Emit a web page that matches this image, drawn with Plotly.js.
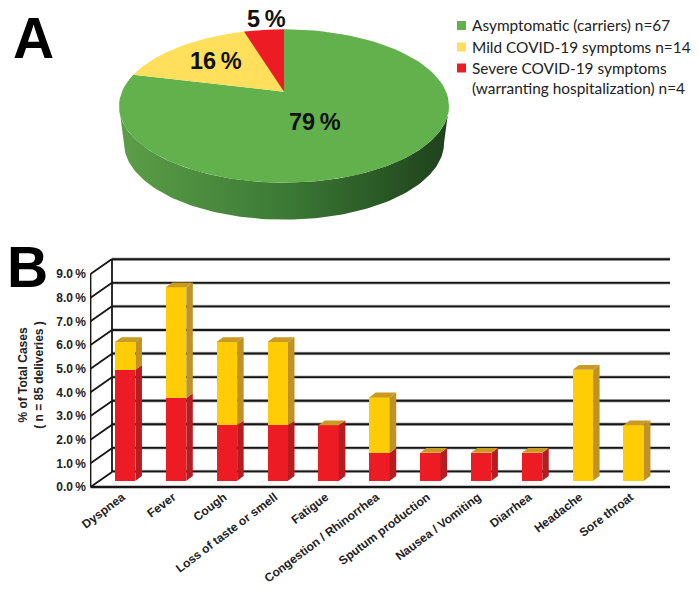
<!DOCTYPE html>
<html><head><meta charset="utf-8">
<script src="https://cdn.plot.ly/plotly-3.0.1.min.js"></script>
<style>html,body{margin:0;padding:0;background:#fff}</style></head>
<body><div id="chart" style="width:699px;height:593px"></div>
<script>
// ---------- data ----------
const pieLabels = ['Asymptomatic (carriers) n=67','Mild COVID-19 symptoms n=14','Severe COVID-19 symptoms<br>(warranting hospitalization) n=4'];
const pieCounts = [67,14,4];
const pieTexts = ['79\u2009%','16\u2009%','5\u2009%'];
const pieColors = ['#62B14C','#FFDF5C','#ED1C24'];
const categories = ['Dyspnea','Fever','Cough','Loss of taste or smell','Fatigue','Congestion / Rhinorrhea','Sputum production','Nausea / Vomiting','Diarrhea','Headache','Sore throat'];
const severeValues = [4.7,3.5,2.35,2.35,2.35,1.18,1.18,1.18,1.18,0,0];
const mildValues   = [1.18,4.7,3.53,3.53,0,2.35,0,0,0,4.7,2.35];
const yLevels = [0,1,2,3,4,5,6,7,8,9];
const yTickText = ['0.0\u2009%','1.0\u2009%','2.0\u2009%','3.0\u2009%','4.0\u2009%','5.0\u2009%','6.0\u2009%','7.0\u2009%','8.0\u2009%','9.0\u2009%'];

// ---------- layout constants (pixels of the 699x593 page) ----------
const W=699,H=593;
const PLOT={l:90,r:671,t:255,b:495};
const fx=p=>p/W, fy=p=>1-p/H;
const PITCH=50.85, X0=125.2;                 // px per category, px of first category
const xRange=[(PLOT.l-X0)/PITCH,(PLOT.r-X0)/PITCH];
const yRangeFor=(zero,scale)=>[(zero-PLOT.b)/scale,(zero-PLOT.t)/scale];
const BAR_ZERO=480.7,BAR_SCALE=23.6;
const WALL_ZERO=471.4,WALL_SCALE=23.57;
const FRONT_ZERO=487,FRONT_SCALE=23.67;
const BAR_W=0.403, DX=6.5/PITCH, DY=4.8/BAR_SCALE;
const WALL_L=(112-X0)/PITCH, WALL_R=(670-X0)/PITCH, FRONT_L=(90.5-X0)/PITCH;

// ---------- 3D faces of the bars, derived from the values ----------
function faces(lowFn,highFn,kind){
  const xs=[],ys=[];
  categories.forEach((c,i)=>{
    const lo=lowFn(i),hi=highFn(i);
    if(hi<=lo) return;
    const R=i+BAR_W/2,L=i-BAR_W/2;
    if(kind==='side'){xs.push(R,R+DX,R+DX,R,R,null);ys.push(lo,lo+DY,hi+DY,hi,lo,null);}
    else{xs.push(L,R,R+DX,L+DX,L,null);ys.push(hi,hi,hi+DY,hi+DY,hi,null);}
  });
  return {xs,ys};
}
const total=i=>severeValues[i]+mildValues[i];
const sideRed=faces(()=>0,i=>severeValues[i],'side');
const sideYel=faces(i=>severeValues[i],total,'side');
const tops=faces(()=>-1,total,'top');

// ---------- wall and frame lines ----------
const wallX=[],wallY=[];
yLevels.forEach(v=>{wallX.push(WALL_L,WALL_R,null);wallY.push(v,v,null);});
const frameX=[FRONT_L,FRONT_L,null,WALL_L,WALL_L,null],
      frameY=[0,9,null,15/FRONT_SCALE,9+15/FRONT_SCALE,null];
yLevels.forEach(v=>{frameX.push(FRONT_L,WALL_L,null);frameY.push(v,v+15/FRONT_SCALE,null);});

// ---------- tilted pie, derived from the counts ----------
const P={cx:284,cy:91.7,a:162.1,b:74,k:0.1864,depth:37,shrink:0.97};
function proj(theta){const u=Math.sin(theta),v=Math.cos(theta),w=1+P.k*v;
  return [P.cx+P.a*u/w,P.cy-P.b*v/w];}
const sum=pieCounts.reduce((a,b)=>a+b,0);
let acc=0;
const pieTraces=pieCounts.map((n,i)=>{
  const t0=acc/sum*2*Math.PI; acc+=n; const t1=acc/sum*2*Math.PI;
  const xs=[P.cx],ys=[P.cy];
  for(let j=0;j<=90;j++){const p=proj(t0+(t1-t0)*j/90);xs.push(p[0]);ys.push(p[1]);}
  xs.push(P.cx);ys.push(P.cy);
  return {x:xs,y:ys,xaxis:'x4',yaxis:'y4',mode:'lines',fill:'toself',fillcolor:pieColors[i],
    line:{width:0,color:pieColors[i]},name:pieLabels[i],hoverinfo:'name',showlegend:false};
});
const te=Math.acos(-P.k);
const wallXs=[],wallYs=[];
for(let j=0;j<=120;j++){const p=proj(te+(2*Math.PI-2*te)*j/120);wallXs.push(p[0]);wallYs.push(p[1]);}
for(let j=120;j>=0;j--){const p=proj(te+(2*Math.PI-2*te)*j/120);
  wallXs.push(P.cx+(p[0]-P.cx)*P.shrink);wallYs.push(p[1]+P.depth);}
wallXs.push(wallXs[0]);wallYs.push(wallYs[0]);

const hidden={showgrid:false,zeroline:false,showline:false,showticklabels:false,ticks:''};
const tickFont={family:'"Liberation Sans",Arial,sans-serif',size:12,color:'#222',weight:700};
const black='#161616';

const data=[
  // wall in the base subplot: soft halo, then the line
  {x:wallX,y:wallY,xaxis:'x',yaxis:'y',mode:'lines',line:{color:'#b8b8b8',width:3.4},hoverinfo:'skip',showlegend:false},
  {x:wallX,y:wallY,xaxis:'x',yaxis:'y',mode:'lines',line:{color:black,width:1.9},hoverinfo:'skip',showlegend:false},
  // bars
  {x:categories,y:severeValues,xaxis:'x2',yaxis:'y2',type:'bar',name:'Severe',marker:{color:'#ED1C24'},showlegend:false},
  {x:categories,y:mildValues,xaxis:'x2',yaxis:'y2',type:'bar',name:'Mild',marker:{color:'#FFCC05'},showlegend:false},
  // bar depth
  {x:sideRed.xs,y:sideRed.ys,xaxis:'x3',yaxis:'y2',mode:'lines',fill:'toself',fillcolor:'#B71C20',line:{width:0},hoverinfo:'skip',showlegend:false},
  {x:sideYel.xs,y:sideYel.ys,xaxis:'x3',yaxis:'y2',mode:'lines',fill:'toself',fillcolor:'#BE9226',line:{width:0},hoverinfo:'skip',showlegend:false},
  {x:tops.xs,y:tops.ys,xaxis:'x3',yaxis:'y2',mode:'lines',fill:'toself',fillcolor:'#C99A24',line:{width:0},hoverinfo:'skip',showlegend:false},
  // frame on the front scale
  {x:frameX,y:frameY,xaxis:'x',yaxis:'y3',mode:'lines',line:{color:black,width:1.8},hoverinfo:'skip',showlegend:false},
  {x:[FRONT_L,WALL_R],y:[0,0],xaxis:'x',yaxis:'y3',mode:'lines',line:{color:black,width:2.6},hoverinfo:'skip',showlegend:false},
  // pie
  {x:wallXs,y:wallYs,xaxis:'x4',yaxis:'y4',mode:'lines',fill:'toself',line:{width:0},
   fillgradient:{type:'horizontal',colorscale:[[0,'#5C9E48'],[0.5,'#3C7A36'],[0.78,'#2B5A27'],[1,'#20401C']]},hoverinfo:'skip',showlegend:false},
  ...pieTraces,
  // legend swatches
  {x:[461.5,461.5,461.5],y:[25.5,47,68],xaxis:'x4',yaxis:'y4',mode:'markers',
   marker:{symbol:'square',size:9,color:pieColors},hoverinfo:'skip',showlegend:false}
];

const annotations=[
  {text:pieTexts[0],x:315,y:122},{text:pieTexts[1],x:215.5,y:61},{text:pieTexts[2],x:266,y:19}
].map(a=>({...a,xref:'x4',yref:'y4',showarrow:false,xanchor:'center',yanchor:'middle',
  font:{family:'"Liberation Sans",Arial,sans-serif',size:23.5,color:'#111',weight:700}}));
[[pieLabels[0],25],[pieLabels[1],47],[pieLabels[2],77.5]].forEach(d=>annotations.push({
  text:d[0],x:472,y:d[1],xref:'x4',yref:'y4',showarrow:false,xanchor:'left',yanchor:'middle',align:'left',xshift:-2,
  font:{family:'Lato,sans-serif',size:15.4,color:'#222'}}));
[['A',33,38.5],['B',27.5,266.5]].forEach(d=>annotations.push({
  text:d[0],x:fx(d[1]),y:fy(d[2]),xref:'paper',yref:'paper',showarrow:false,xanchor:'center',yanchor:'middle',
  font:{family:'"Liberation Sans",Arial,sans-serif',size:57,color:'#000',weight:700}}));

const dom={x:[fx(PLOT.l),fx(PLOT.r)],y:[fy(PLOT.b),fy(PLOT.t)]};
const layout={
  width:W,height:H,margin:{l:0,r:0,t:0,b:0},paper_bgcolor:'#fff',plot_bgcolor:'rgba(0,0,0,0)',
  showlegend:false,barmode:'stack',bargap:1-BAR_W,
  xaxis:{...hidden,domain:dom.x,range:xRange,anchor:'y'},
  yaxis:{...hidden,domain:dom.y,range:yRangeFor(WALL_ZERO,WALL_SCALE),anchor:'x'},
  xaxis2:{type:'category',overlaying:'x',anchor:'y2',domain:dom.x,range:xRange,showgrid:false,zeroline:false,showline:false,
    tickmode:'linear',dtick:1,tickangle:-37,ticks:'',tickfont:tickFont,ticklabelstandoff:-8,ticklabelshift:-3},
  yaxis2:{...hidden,overlaying:'y',anchor:'x2',domain:dom.y,range:yRangeFor(BAR_ZERO,BAR_SCALE)},
  xaxis3:{...hidden,overlaying:'x',anchor:'y2',domain:dom.x,range:xRange},
  yaxis3:{overlaying:'y',anchor:'x',side:'left',domain:dom.y,range:yRangeFor(FRONT_ZERO,FRONT_SCALE),
    showgrid:false,zeroline:false,showline:false,ticks:'',tickmode:'array',tickvals:yLevels,ticktext:yTickText,
    tickfont:tickFont,ticklabelstandoff:3,
    title:{text:'% of Total Cases<br>( n = 85 deliveries )',standoff:10,
      font:{family:'"Liberation Sans",Arial,sans-serif',size:12,color:'#222',weight:700}}},
  xaxis4:{...hidden,domain:[0,1],range:[0,W],anchor:'y4'},
  yaxis4:{...hidden,domain:[fy(240),1],range:[240,0],anchor:'x4'},
  annotations
};
Plotly.newPlot('chart',data,layout,{staticPlot:true,displayModeBar:false});
</script></body></html>
